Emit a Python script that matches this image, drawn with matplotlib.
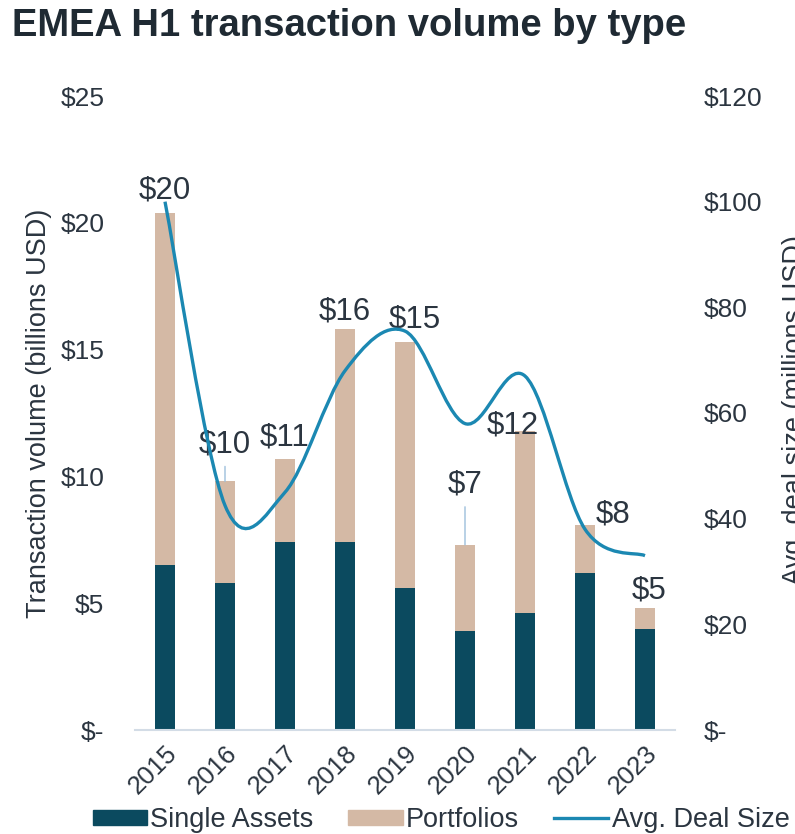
import numpy as np
import matplotlib
matplotlib.use("Agg")
from matplotlib import pyplot as plt
from matplotlib.path import Path
from matplotlib.patches import PathPatch, Patch
from matplotlib.lines import Line2D

plt.rcParams.update({
    "font.family": "Liberation Sans",
    "text.color": "#2b3540",
    "axes.labelcolor": "#2b3540",
    "xtick.color": "#2b3540",
    "ytick.color": "#2b3540",
})

years = ["2015", "2016", "2017", "2018", "2019", "2020", "2021", "2022", "2023"]
single_assets = [6.5, 5.8, 7.4, 7.4, 5.6, 3.9, 4.6, 6.2, 4.0]
portfolios = [13.9, 4.0, 3.3, 8.4, 9.7, 3.4, 7.2, 1.9, 0.8]
totals_label = ["$20", "$10", "$11", "$16", "$15", "$7", "$12", "$8", "$5"]
avg_deal_size = [100, 42.5, 45, 68, 75.5, 58, 67, 38, 33]

# label offsets in pixels (dx, dy) from top of each stacked bar
label_offsets = [(0, 22), (0, 37), (0, 21), (0, 18), (10, 22), (0, 60), (-12, 5), (28, 10), (4, 18)]
leader = [False, True, False, False, False, True, False, False, False]

dark = "#0b4a5f"
tan = "#d4b9a5"
blue = "#1b88b2"

fig = plt.figure(figsize=(7.95, 8.34), dpi=100)
ax = fig.add_axes([135/795, 1-730/834, 540/795, 634/834])
x = np.arange(len(years))
total = np.array(single_assets) + np.array(portfolios)

ax.bar(x, single_assets, width=0.33, color=dark, zorder=2)
ax.bar(x, portfolios, width=0.33, bottom=single_assets, color=tan, zorder=2)

ax.set_xlim(-0.5, len(years) - 0.5)
ax.set_ylim(0, 25)
ax.set_yticks([0, 5, 10, 15, 20, 25])
ax.set_yticklabels(["$-", "$5", "$10", "$15", "$20", "$25"])
ax.set_xticks(x)
ax.set_xticklabels(years, rotation=45, ha="right", rotation_mode="anchor")
ax.tick_params(axis="y", length=0, pad=22, labelsize=19)
ax.tick_params(axis="x", length=0, pad=8, labelsize=18.5)
for s in ["top", "right", "left"]:
    ax.spines[s].set_visible(False)
ax.spines["bottom"].set_color("#d3dce6")
ax.spines["bottom"].set_linewidth(1.5)
ax.set_ylabel("Transaction volume (billions USD)", fontsize=19.5, labelpad=6)

for i in range(len(years)):
    dx, dy = label_offsets[i]
    arrow = None
    if leader[i]:
        arrow = dict(arrowstyle="-", color="#9dbfdc", lw=1, shrinkA=3, shrinkB=0)
    ax.annotate(totals_label[i], xy=(x[i], total[i]), xytext=(dx, dy),
                textcoords="offset pixels", ha="center", va="center",
                fontsize=22.5, arrowprops=arrow, zorder=4)

ax2 = ax.twinx()
ax2.set_ylim(0, 120)
ax2.set_yticks([0, 20, 40, 60, 80, 100, 120])
ax2.set_yticklabels(["$-", "$20", "$40", "$60", "$80", "$100", "$120"])
ax2.tick_params(axis="y", length=0, pad=21, labelsize=19)
for s in ["top", "right", "left", "bottom"]:
    ax2.spines[s].set_visible(False)

# smoothed line (Catmull-Rom style bezier through the data points)
pts = np.column_stack([x, avg_deal_size]).astype(float)
verts = [pts[0]]
codes = [Path.MOVETO]
n = len(pts)
for i in range(n - 1):
    p0 = pts[i - 1] if i > 0 else pts[i]
    p1 = pts[i]
    p2 = pts[i + 1]
    p3 = pts[i + 2] if i + 2 < n else pts[i + 1]
    c1 = p1 + (p2 - p0) / 6
    c2 = p2 - (p3 - p1) / 6
    verts += [c1, c2, p2]
    codes += [Path.CURVE4] * 3
ax2.add_patch(PathPatch(Path(verts, codes), fill=False, edgecolor=blue, lw=2.4, zorder=3))

# right axis title runs off the edge, as in the source
fig.text(782/795, 1-410/834, "Avg. deal size (millions USD)", rotation=90,
         ha="left", va="center", fontsize=19.5)

fig.text(12/795, 1-26/834, "EMEA H1 transaction volume by type", fontsize=27.5,
         fontweight="bold", ha="left", va="center", color="#1f2a33")

handles = [Patch(color=dark), Patch(color=tan), Line2D([0], [0], color=blue, lw=2.4)]
fig.legend(handles, ["Single Assets", "Portfolios", "Avg. Deal Size"],
           loc="center", bbox_to_anchor=(441/795, 1-820/834), ncol=3, frameon=False,
           fontsize=19.5, handlelength=2.0, handleheight=0.5, handletextpad=0.12,
           columnspacing=1.3, borderpad=0)

fig.savefig("out.png", dpi=100)
